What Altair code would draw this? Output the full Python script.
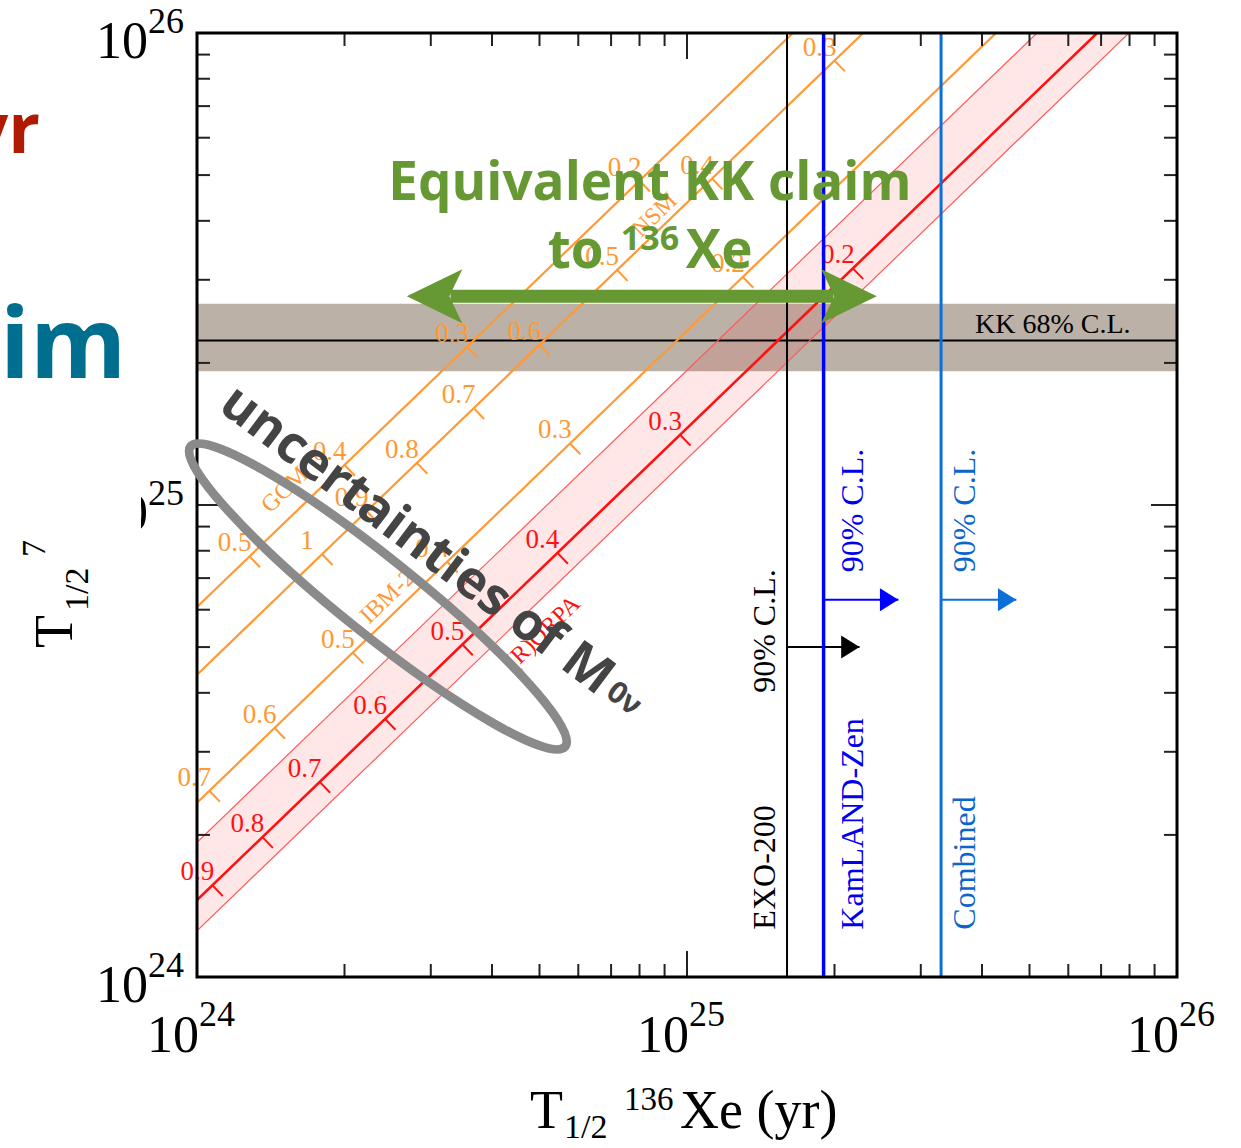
import altair as alt
import pandas as pd

# ------------------------------------------------------------------
# T1/2(76Ge) versus T1/2(136Xe): 136Xe limits, the KK claim band and
# the model lines that translate one half-life into the other.
# ------------------------------------------------------------------

SERIF = "Liberation Serif"
SANS = "Open Sans"
ORANGE = "#ff9933"
RED = "#ff1111"
BAND_EDGE = "#ff5a5a"
GREEN = "#669933"

W, H = 980, 944          # plot area
LEFT, TOP = 197, 33      # page offset of the plot area

T_RANGE = [1e24, 1e26]

# 136Xe lower limits (90% C.L.)
limit_names = ["EXO-200", "KamLAND-Zen", "Combined"]
limit_values = [1.6e25, 1.9e25, 3.3e25]
limit_arrow_level = [5.0e24, 6.3e24, 6.3e24]
limit_arrow_tip = [2.25e25, 2.7e25, 4.7e25]

# KK claim for 76Ge (68% C.L.)
kk_central, kk_low, kk_high = 2.23e25, 1.92e25, 2.67e25

# nuclear matrix element models: T(76Ge) / T(136Xe)
models = ["GCM", "NSM", "IBM-2", "(R)QRPA"]
ge_per_xe = [6.08, 4.37, 2.34, 1.455]
qrpa_band = [1.253, 1.93]

# <m_bb> (eV) marks along each model line, placed at their 136Xe half-life
mass_marks = {
    "GCM": ["0.5", "0.4", "0.3", "0.2"],
    "NSM": ["1", "0.9", "0.8", "0.7", "0.6", "0.5", "0.4", "0.3"],
    "IBM-2": ["0.7", "0.6", "0.5", "0.4", "0.3", "0.2"],
    "(R)QRPA": ["0.9", "0.8", "0.7", "0.6", "0.5", "0.4", "0.3", "0.2"],
}
mass_mark_xe = {
    "GCM": [1.28e24, 2.0e24, 3.56e24, 8.0e24],
    "NSM": [1.8e24, 2.22e24, 2.81e24, 3.67e24, 5.0e24, 7.2e24, 1.125e25, 2.0e25],
    "IBM-2": [1.06e24, 1.44e24, 2.08e24, 3.24e24, 5.77e24, 1.30e25],
    "(R)QRPA": [1.075e24, 1.36e24, 1.78e24, 2.42e24, 3.48e24, 5.44e24, 9.68e24, 2.18e25],
}

# where the model names sit (T_Xe, T_Ge)
model_name_xe = [1.512e24, 8.6e24, 2.45e24, 5.08e24]
model_name_ge = [1.076e25, 4.11e25, 6.38e24, 5.36e24]

# equivalent KK range carried over to 136Xe (double arrow)
kk_arrow_level = 2.77e25
kk_arrow_tips = [2.68e24, 2.44e25]
kk_arrow_shaft = [3.29e24, 1.99e25]

# spread from the matrix elements (ellipse and its caption)
spread_center = [2.34e24, 6.4e24]
spread_caption_at = [2.81e24, 8.43e24]
spread_sub_at = [7.43e24, 3.88e24]

xs = alt.Scale(type="log", domain=T_RANGE, nice=False)
ys = alt.Scale(type="log", domain=T_RANGE, nice=False)


def X(f):
    return alt.X(f, type="quantitative", scale=xs, axis=None)


def Y(f):
    return alt.Y(f, type="quantitative", scale=ys, axis=None)


def one(**cols):
    return pd.DataFrame({k: [v] for k, v in cols.items()})


def page_text(text, px, py, size, **kw):
    """Text positioned in page pixels (outside the plot area)."""
    return alt.Chart(one(t=text)).mark_text(fontSize=size, **kw).encode(
        x=alt.value(px - LEFT), y=alt.value(py - TOP), text="t:N")


layers = []

# ---- KK band and central value ----
kk = one(lo=kk_low, hi=kk_high, c=kk_central)
layers.append(alt.Chart(kk).mark_rect(color="#bbb1a7").encode(
    x=alt.value(0), x2=alt.value(W), y=Y("lo"), y2=alt.Y2("hi")))

# ---- (R)QRPA uncertainty band ----
band = pd.DataFrame({"xe": T_RANGE,
                     "lo": [qrpa_band[0] * t for t in T_RANGE],
                     "hi": [qrpa_band[1] * t for t in T_RANGE]})
layers.append(alt.Chart(band).mark_area(clip=True, color=RED, opacity=0.1).encode(
    x=X("xe"), y=Y("lo"), y2=alt.Y2("hi")))

layers.append(alt.Chart(kk).mark_rule(color="black", strokeWidth=2).encode(
    y=Y("c"), x=alt.value(0), x2=alt.value(W)))

edge_rows = [{"edge": i, "xe": t, "ge": f * t} for i, f in enumerate(qrpa_band) for t in T_RANGE]
layers.append(alt.Chart(pd.DataFrame(edge_rows)).mark_line(
    clip=True, color=BAND_EDGE, strokeWidth=1.2).encode(x=X("xe"), y=Y("ge"), detail="edge:N"))

# ---- model lines ----
line_rows = [{"model": m, "xe": t, "ge": f * t} for m, f in zip(models, ge_per_xe) for t in T_RANGE]
lines = pd.DataFrame(line_rows)
layers.append(alt.Chart(lines[lines.model != "(R)QRPA"]).mark_line(
    clip=True, color=ORANGE, strokeWidth=2.2).encode(x=X("xe"), y=Y("ge"), detail="model:N"))
layers.append(alt.Chart(lines[lines.model == "(R)QRPA"]).mark_line(
    clip=True, color=RED, strokeWidth=2.6).encode(x=X("xe"), y=Y("ge")))

# ---- mass marks along the model lines ----
mark_rows = []
for m, f in zip(models, ge_per_xe):
    for lab, t in zip(mass_marks[m], mass_mark_xe[m]):
        mark_rows.append({"model": m, "m": lab, "xe": t, "ge": f * t})
marks = pd.DataFrame(mark_rows)
TICK = "M0,0L0.694,0.72"
for sub, col in [(marks[marks.model != "(R)QRPA"], ORANGE), (marks[marks.model == "(R)QRPA"], RED)]:
    layers.append(alt.Chart(sub).mark_point(
        shape=TICK, size=900, filled=False, strokeWidth=2, color=col, opacity=1).encode(
        x=X("xe"), y=Y("ge")))
    layers.append(alt.Chart(sub).mark_text(
        font=SERIF, fontSize=27, dx=-15, dy=-13, color=col).encode(
        x=X("xe"), y=Y("ge"), text="m:N"))

names = pd.DataFrame({"model": models, "xe": model_name_xe, "ge": model_name_ge})
layers.append(alt.Chart(names[names.model != "(R)QRPA"]).mark_text(
    font=SERIF, fontSize=24, angle=316, color=ORANGE).encode(x=X("xe"), y=Y("ge"), text="model:N"))
layers.append(alt.Chart(names[names.model == "(R)QRPA"]).mark_text(
    font=SERIF, fontSize=24, angle=316, color=RED).encode(x=X("xe"), y=Y("ge"), text="model:N"))

# ---- 136Xe limits ----
limit_style = {
    "EXO-200": dict(line="#000000", width=2.0, text="#000000", side=-12, cl_at=4.0e24),
    "KamLAND-Zen": dict(line="#0000ff", width=3.5, text="#0000ee", side=39, cl_at=7.2e24),
    "Combined": dict(line="#0b6fd8", width=3.0, text="#0b66cc", side=34, cl_at=7.2e24),
}
for name, v, lvl, tip in zip(limit_names, limit_values, limit_arrow_level, limit_arrow_tip):
    st = limit_style[name]
    d = one(v=v, lvl=lvl, tip=tip, name=name, cl="90% C.L.", cl_at=st["cl_at"], base=1.26e24)
    layers.append(alt.Chart(d).mark_rule(color=st["line"], strokeWidth=st["width"]).encode(
        x=X("v"), y=alt.value(0), y2=alt.value(H)))
    layers.append(alt.Chart(d).mark_rule(color=st["line"], strokeWidth=2).encode(
        x=X("v"), x2=alt.X2("tip"), y=Y("lvl")))
    layers.append(alt.Chart(d).mark_point(
        shape="M0,0L-1.6,-1L-1.6,1Z", size=529, filled=True, opacity=1, color=st["line"]).encode(
        x=X("tip"), y=Y("lvl")))
    layers.append(alt.Chart(d).mark_text(
        font=SERIF, fontSize=32, angle=270, align="left", baseline="alphabetic",
        dy=st["side"], color=st["text"]).encode(x=X("v"), y=Y("base"), text="name:N"))
    layers.append(alt.Chart(d).mark_text(
        font=SERIF, fontSize=32, angle=270, align="left", baseline="alphabetic",
        dy=st["side"], color=st["text"]).encode(x=X("v"), y=Y("cl_at"), text="cl:N"))

layers.append(alt.Chart(one(t="KK 68% C.L.", x=3.87e25, y=kk_central)).mark_text(
    font=SERIF, fontSize=28, align="left", baseline="alphabetic", dy=-8, color="black").encode(
    x=X("x"), y=Y("y"), text="t:N"))

# ---- inward log ticks on all four sides ----
minor = pd.DataFrame({"v": [k * 10 ** e for e in (24, 25) for k in range(2, 10)]})
major = pd.DataFrame({"v": [1e25]})
for d, ln in [(minor, 13), (major, 26)]:
    tk = dict(color="#222222", strokeWidth=2)
    layers.append(alt.Chart(d).mark_rule(**tk).encode(x=X("v"), y=alt.value(H), y2=alt.value(H - ln)))
    layers.append(alt.Chart(d).mark_rule(**tk).encode(x=X("v"), y=alt.value(0), y2=alt.value(ln)))
    layers.append(alt.Chart(d).mark_rule(**tk).encode(y=Y("v"), x=alt.value(0), x2=alt.value(ln)))
    layers.append(alt.Chart(d).mark_rule(**tk).encode(y=Y("v"), x=alt.value(W), x2=alt.value(W - ln)))

layers.append(alt.Chart(one(a=1)).mark_rect(fillOpacity=0, stroke="black", strokeWidth=3).encode(
    x=alt.value(0), x2=alt.value(W), y=alt.value(0), y2=alt.value(H)))

# ---- KK claim carried over to 136Xe ----
layers.append(alt.Chart(one(t="Equivalent KK claim", x=8.4e24, y=4.43e25)).mark_text(
    font=SANS, fontSize=53, fontWeight="bold", color=GREEN, align="center", baseline="alphabetic").encode(
    x=X("x"), y=Y("y"), text="t:N"))
for txt, size, dx, dy in [("to", 53, 0, 0), ("136", 34, 73, -18), ("Xe", 53, 138, 0)]:
    layers.append(alt.Chart(one(t=txt, x=5.2e24, y=3.18e25)).mark_text(
        font=SANS, fontSize=size, fontWeight="bold", color=GREEN, align="left",
        baseline="alphabetic", dx=dx, dy=dy).encode(x=X("x"), y=Y("y"), text="t:N"))

arrow = one(a=kk_arrow_shaft[0], b=kk_arrow_shaft[1], l=kk_arrow_tips[0], r=kk_arrow_tips[1], y=kk_arrow_level)
layers.append(alt.Chart(arrow).mark_rule(color=GREEN, strokeWidth=13).encode(
    x=X("a"), x2=alt.X2("b"), y=Y("y")))
layers.append(alt.Chart(arrow).mark_point(
    shape="M0,0L1.85,-0.9L1.42,0L1.85,0.9Z", size=3600, filled=True, opacity=1, color=GREEN).encode(
    x=X("l"), y=Y("y")))
layers.append(alt.Chart(arrow).mark_point(
    shape="M0,0L-1.85,-0.9L-1.42,0L-1.85,0.9Z", size=3600, filled=True, opacity=1, color=GREEN).encode(
    x=X("r"), y=Y("y")))

# ---- matrix-element spread ----
layers.append(alt.Chart(one(x=spread_center[0], y=spread_center[1])).mark_point(
    shape="M-1,0A1,0.158,0,1,1,1,0A1,0.158,0,1,1,-1,0Z", size=230400, angle=38.7,
    filled=False, opacity=1, color="#8a8a8a", strokeWidth=9).encode(x=X("x"), y=Y("y")))
layers.append(alt.Chart(one(t="uncertainties of M", x=spread_caption_at[0], y=spread_caption_at[1])).mark_text(
    font=SANS, fontSize=52, fontWeight="bold", color="#444444", angle=37, align="center",
    baseline="middle").encode(x=X("x"), y=Y("y"), text="t:N"))
layers.append(alt.Chart(one(t="0ν", x=spread_sub_at[0], y=spread_sub_at[1])).mark_text(
    font=SANS, fontSize=30, fontWeight="bold", color="#444444", angle=37, align="center",
    baseline="middle").encode(x=X("x"), y=Y("y"), text="t:N"))

# ---- tick labels ----
decades = pd.DataFrame({"v": [1e24, 1e25, 1e26], "base": ["10"] * 3, "exp": ["24", "25", "26"]})
layers.append(alt.Chart(decades).mark_text(
    font=SERIF, fontSize=52, align="right", baseline="alphabetic", dx=2, color="black").encode(
    x=X("v"), y=alt.value(1052 - TOP), text="base:N"))
layers.append(alt.Chart(decades).mark_text(
    font=SERIF, fontSize=36, align="left", baseline="alphabetic", dx=2, color="black").encode(
    x=X("v"), y=alt.value(1026 - TOP), text="exp:N"))
layers.append(alt.Chart(decades).mark_text(
    font=SERIF, fontSize=52, align="right", baseline="alphabetic", dy=25, color="black").encode(
    y=Y("v"), x=alt.value(148 - LEFT), text="base:N"))
layers.append(alt.Chart(decades).mark_text(
    font=SERIF, fontSize=36, align="left", baseline="alphabetic", color="black").encode(
    y=Y("v"), x=alt.value(148 - LEFT), text="exp:N"))

# ---- axis titles ----
layers += [
    page_text("T", 530, 1128, 54, font=SERIF, align="left", baseline="alphabetic", color="black"),
    page_text("1/2", 564, 1138, 34, font=SERIF, align="left", baseline="alphabetic", color="black"),
    page_text("136", 624, 1110, 33, font=SERIF, align="left", baseline="alphabetic", color="black"),
    page_text("Xe (yr)", 680, 1128, 54, font=SERIF, align="left", baseline="alphabetic", color="black"),
    page_text("T", 72, 648, 54, font=SERIF, angle=270, align="left", baseline="alphabetic", color="black"),
    page_text("1/2", 88, 611, 34, font=SERIF, angle=270, align="left", baseline="alphabetic", color="black"),
    page_text("76", 45, 557, 34, font=SERIF, angle=270, align="left", baseline="alphabetic", color="black"),
    page_text("Ge (yr)", 72, 522, 54, font=SERIF, angle=270, align="left", baseline="alphabetic", color="black"),
]

# ---- slide panel on the left edge ----
layers.append(alt.Chart(one(a=1)).mark_rect(color="white").encode(
    x=alt.value(0 - LEFT), x2=alt.value(141 - LEFT), y=alt.value(68 - TOP), y2=alt.value(539 - TOP)))
layers.append(page_text("yr", 40, 153, 70, font=SANS, fontWeight="bold", color="#b01a00",
                        align="right", baseline="alphabetic"))
layers.append(page_text("im", 0, 378, 98, font=SANS, fontWeight="bold", color="#006e8e",
                        align="left", baseline="alphabetic"))

chart = alt.layer(*layers).properties(
    width=W, height=H,
    padding={"left": LEFT, "top": TOP, "right": 1241 - LEFT - W, "bottom": 1148 - TOP - H},
    autosize=alt.AutoSizeParams(type="none"),
).configure_view(strokeWidth=0).configure(background="white")

chart.save("out.html", embed_options={"renderer": "svg", "actions": False})
